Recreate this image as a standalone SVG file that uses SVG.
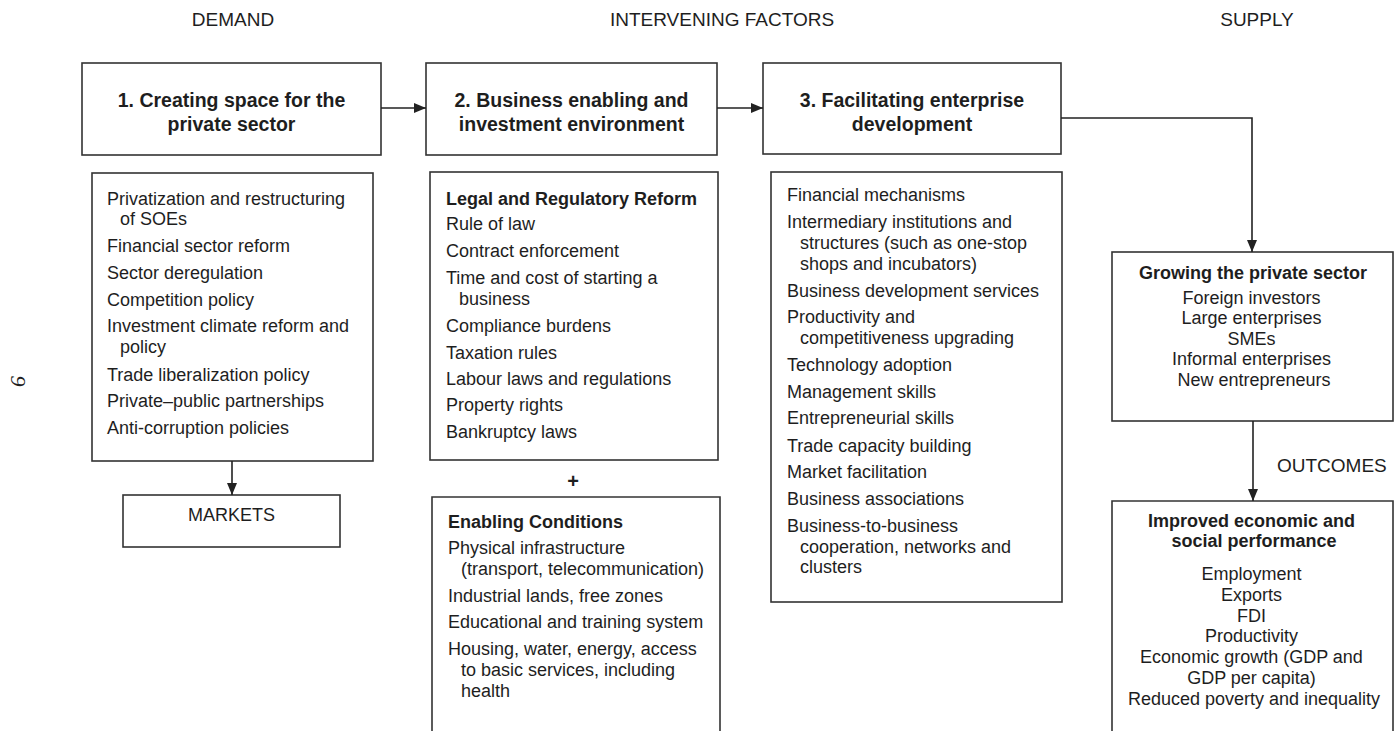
<svg xmlns="http://www.w3.org/2000/svg" width="1394" height="731" viewBox="0 0 1394 731">
  <style>
    .box { fill: #fff; stroke: #333; stroke-width: 1.6; }
    .open { fill: none; stroke: #333; stroke-width: 1.6; }
    .wire { fill: none; stroke: #222; stroke-width: 1.6; }
    text { font-family: "Liberation Sans", Arial, sans-serif; fill: #1e1e1e; }
    .lbl { font-size: 19px; }
    .head { font-size: 19.5px; font-weight: bold; text-anchor: middle; }
    .body { font-size: 18px; }
    .bold { font-size: 18px; font-weight: bold; }
    .mid { text-anchor: middle; }
    .pg { font-family: "Liberation Serif", "Times New Roman", serif; font-style: italic; font-size: 22px; }
  </style>
  <defs>
    <marker id="tip" markerUnits="userSpaceOnUse" markerWidth="12" markerHeight="12" viewBox="0 0 12 12" refX="12" refY="6" orient="auto">
      <path d="M0,1 L12,6 L0,11 Z" fill="#222"/>
    </marker>
  </defs>

  <rect width="1394" height="731" fill="#fff"/>

  <!-- column labels -->
  <g id="labels">
    <text class="lbl mid" x="233" y="26">DEMAND</text>
    <text class="lbl mid" x="722" y="26">INTERVENING FACTORS</text>
    <text class="lbl mid" x="1257" y="26">SUPPLY</text>
    <text class="lbl" x="1277" y="472">OUTCOMES</text>
    <text class="pg" transform="translate(11,381) rotate(90)" text-anchor="middle">9</text>
  </g>

  <!-- header boxes -->
  <g id="creating-space">
    <rect class="box" x="82" y="63" width="299" height="92"/>
    <text class="head" x="231.5" y="107">1. Creating space for the</text>
    <text class="head" x="231.5" y="131">private sector</text>
  </g>
  <g id="business-enabling">
    <rect class="box" x="426" y="63" width="291" height="92"/>
    <text class="head" x="571.5" y="107">2. Business enabling and</text>
    <text class="head" x="571.5" y="131">investment environment</text>
  </g>
  <g id="facilitating">
    <rect class="box" x="763" y="63" width="298" height="91"/>
    <text class="head" x="912" y="107">3. Facilitating enterprise</text>
    <text class="head" x="912" y="131">development</text>
  </g>

  <!-- demand-side policies -->
  <g id="demand-policies">
    <rect class="box" x="92" y="173" width="281" height="288"/>
    <text class="body">
      <tspan x="107" y="205">Privatization and restructuring</tspan>
      <tspan x="120" y="225">of SOEs</tspan>
      <tspan x="107" y="252">Financial sector reform</tspan>
      <tspan x="107" y="279">Sector deregulation</tspan>
      <tspan x="107" y="306">Competition policy</tspan>
      <tspan x="107" y="332">Investment climate reform and</tspan>
      <tspan x="120" y="353">policy</tspan>
      <tspan x="107" y="381">Trade liberalization policy</tspan>
      <tspan x="107" y="407">Private–public partnerships</tspan>
      <tspan x="107" y="434">Anti-corruption policies</tspan>
    </text>
  </g>

  <g id="markets">
    <rect class="box" x="123" y="495" width="217" height="52"/>
    <text class="body mid" x="231.5" y="521">MARKETS</text>
  </g>

  <!-- legal and regulatory reform -->
  <g id="legal-reform">
    <rect class="box" x="430" y="172" width="288" height="288"/>
    <text class="bold" x="446" y="205">Legal and Regulatory Reform</text>
    <text class="body">
      <tspan x="446" y="230">Rule of law</tspan>
      <tspan x="446" y="257">Contract enforcement</tspan>
      <tspan x="446" y="284">Time and cost of starting a</tspan>
      <tspan x="459" y="305">business</tspan>
      <tspan x="446" y="332">Compliance burdens</tspan>
      <tspan x="446" y="359">Taxation rules</tspan>
      <tspan x="446" y="385">Labour laws and regulations</tspan>
      <tspan x="446" y="411">Property rights</tspan>
      <tspan x="446" y="438">Bankruptcy laws</tspan>
    </text>
  </g>

  <g id="plus">
    <text class="bold mid" x="573" y="488" style="font-size:20px">+</text>
  </g>

  <!-- enabling conditions, runs past the lower edge -->
  <g id="enabling-conditions">
    <path class="open" d="M432,740 V497 H720 V740"/>
    <text class="bold" x="448" y="528">Enabling Conditions</text>
    <text class="body">
      <tspan x="448" y="554">Physical infrastructure</tspan>
      <tspan x="461" y="575">(transport, telecommunication)</tspan>
      <tspan x="448" y="602">Industrial lands, free zones</tspan>
      <tspan x="448" y="628">Educational and training system</tspan>
      <tspan x="448" y="655">Housing, water, energy, access</tspan>
      <tspan x="461" y="676">to basic services, including</tspan>
      <tspan x="461" y="697">health</tspan>
    </text>
  </g>

  <!-- enterprise development instruments -->
  <g id="enterprise-instruments">
    <rect class="box" x="771" y="172" width="291" height="430"/>
    <text class="body">
      <tspan x="787" y="201">Financial mechanisms</tspan>
      <tspan x="787" y="228">Intermediary institutions and</tspan>
      <tspan x="800" y="249">structures (such as one-stop</tspan>
      <tspan x="800" y="270">shops and incubators)</tspan>
      <tspan x="787" y="297">Business development services</tspan>
      <tspan x="787" y="323">Productivity and</tspan>
      <tspan x="800" y="344">competitiveness upgrading</tspan>
      <tspan x="787" y="371">Technology adoption</tspan>
      <tspan x="787" y="398">Management skills</tspan>
      <tspan x="787" y="424">Entrepreneurial skills</tspan>
      <tspan x="787" y="452">Trade capacity building</tspan>
      <tspan x="787" y="478">Market facilitation</tspan>
      <tspan x="787" y="505">Business associations</tspan>
      <tspan x="787" y="532">Business-to-business</tspan>
      <tspan x="800" y="553">cooperation, networks and</tspan>
      <tspan x="800" y="573">clusters</tspan>
    </text>
  </g>

  <!-- supply side -->
  <g id="growing-private-sector">
    <rect class="box" x="1112" y="252" width="281" height="169"/>
    <text class="bold mid" x="1253" y="279">Growing the private sector</text>
    <text class="body mid">
      <tspan x="1254" y="304">Foreign investors</tspan>
      <tspan x="1254" y="324">Large enterprises</tspan>
      <tspan x="1254" y="345">SMEs</tspan>
      <tspan x="1254" y="365">Informal enterprises</tspan>
      <tspan x="1254" y="386">New entrepreneurs</tspan>
    </text>
  </g>

  <g id="improved-performance">
    <path class="open" d="M1112,740 V501 H1393 V740"/>
    <text class="bold mid">
      <tspan x="1254" y="527">Improved economic and</tspan>
      <tspan x="1254" y="547">social performance</tspan>
    </text>
    <text class="body mid">
      <tspan x="1254" y="580">Employment</tspan>
      <tspan x="1254" y="601">Exports</tspan>
      <tspan x="1254" y="622">FDI</tspan>
      <tspan x="1254" y="642">Productivity</tspan>
      <tspan x="1254" y="663">Economic growth (GDP and</tspan>
      <tspan x="1254" y="684">GDP per capita)</tspan>
      <tspan x="1254" y="705">Reduced poverty and inequality</tspan>
    </text>
  </g>

  <!-- connectors -->
  <g id="connectors">
    <line class="wire" x1="381" y1="108" x2="426" y2="108" marker-end="url(#tip)"/>
    <line class="wire" x1="717" y1="108" x2="763" y2="108" marker-end="url(#tip)"/>
    <polyline class="wire" points="1061,118 1252,118 1252,252" marker-end="url(#tip)"/>
    <line class="wire" x1="232" y1="461" x2="232" y2="495" marker-end="url(#tip)"/>
    <line class="wire" x1="1253" y1="421" x2="1253" y2="501" marker-end="url(#tip)"/>
  </g>
</svg>
